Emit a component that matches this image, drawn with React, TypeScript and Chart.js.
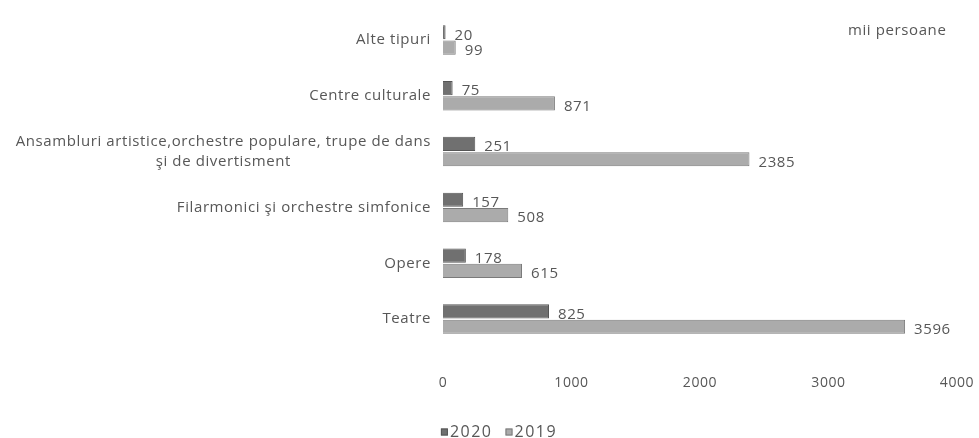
import React, { useEffect, useRef } from "react";
import { Chart, registerables } from "chart.js";

Chart.register(...registerables);

const categories: (string | string[])[] = [
  "Alte tipuri",
  "Centre culturale",
  ["Ansambluri artistice,orchestre populare, trupe de dans", "şi de divertisment"],
  "Filarmonici şi orchestre simfonice",
  "Opere",
  "Teatre",
];
const values2020 = [20, 75, 251, 157, 178, 825];
const values2019 = [99, 871, 2385, 508, 615, 3596];
const xTicks = [0, 1000, 2000, 3000, 4000];
const unitLabel = "mii persoane";

const FONT = "'Open Sans', sans-serif";
const TEXT = "#575757";
const SPACING = "0.6px";

const extrasPlugin = {
  id: "extras",
  beforeUpdate(chart: any) {
    chart.ctx.letterSpacing = SPACING;
  },
  beforeDraw(chart: any) {
    chart.ctx.letterSpacing = SPACING;
  },
  afterDatasetsDraw(chart: any) {
    const ctx = chart.ctx;
    ctx.save();
    ctx.letterSpacing = SPACING;
    ctx.fillStyle = TEXT;
    ctx.font = `15px ${FONT}`;
    ctx.textBaseline = "middle";
    ctx.textAlign = "left";
    chart.data.datasets.forEach((ds: any, di: number) => {
      const meta = chart.getDatasetMeta(di);
      meta.data.forEach((el: any, i: number) => {
        ctx.fillText(String(ds.data[i]), el.x + 9, el.y + 3);
      });
    });
    // y labels
    const y = chart.scales.y;
    categories.forEach((c, i) => {
      const py = y.getPixelForTick(i);
      const lines = Array.isArray(c) ? c : [c];
      const lh = 20;
      const x = chart.chartArea.left - 12;
      if (lines.length === 1) {
        ctx.textAlign = "right";
        ctx.fillText(lines[0], x, py);
      } else {
        ctx.textAlign = "right";
        const w0 = ctx.measureText(lines[0]).width;
        ctx.fillText(lines[0], x, py - lh / 2);
        ctx.textAlign = "center";
        ctx.fillText(lines[1], x - w0 / 2, py + lh / 2);
      }
    });
    ctx.textAlign = "left";
    ctx.fillText(unitLabel, 848, 31);

    // legend
    ctx.font = `16px ${FONT}`;
    ctx.letterSpacing = "1.5px";
    const box = 7;
    const gap = 2;
    const itemGap = 13;
    const dsets = chart.data.datasets;
    const widths = dsets.map((d: any) => box + gap + ctx.measureText(d.label).width);
    const total = widths.reduce((a: number, b: number) => a + b, 0) + itemGap * (dsets.length - 1);
    let lx = 499 - total / 2;
    const ly = 432;
    dsets.forEach((d: any, i: number) => {
      ctx.fillStyle = d.backgroundColor;
      ctx.fillRect(lx, ly - box / 2, box, box);
      ctx.strokeStyle = d.borderColor;
      ctx.lineWidth = 1;
      ctx.strokeRect(lx + 0.5, ly - box / 2 + 0.5, box - 1, box - 1);
      ctx.fillStyle = TEXT;
      ctx.textAlign = "left";
      ctx.fillText(d.label, lx + box + gap, ly);
      lx += widths[i] + itemGap;
    });
    ctx.restore();
  },
};

export default function App() {
  const ref = useRef<HTMLCanvasElement>(null);
  useEffect(() => {
    const chart = new Chart(ref.current!, {
      type: "bar",
      data: {
        labels: categories as any,
        datasets: [
          {
            label: "2020",
            data: values2020,
            backgroundColor: "#707070",
            borderColor: "#555555",
            borderWidth: 1,
            categoryPercentage: 0.55,
            barPercentage: 0.92,
          },
          {
            label: "2019",
            data: values2019,
            backgroundColor: "#ababab",
            borderColor: "#7a7a7a",
            borderWidth: 1,
            categoryPercentage: 0.55,
            barPercentage: 0.92,
          },
        ],
      },
      options: {
        indexAxis: "y",
        animation: false,
        responsive: false,
        layout: { padding: { top: 12, right: 22, left: 0, bottom: 23 } },
        scales: {
          x: {
            min: 0,
            max: 4000,
            afterBuildTicks: (s: any) => {
              s.ticks = xTicks.map((v) => ({ value: v }));
            },
            grid: { display: false },
            border: { display: false },
            ticks: {
              color: TEXT,
              font: { family: FONT, size: 14 },
              padding: 20,
              callback: (v: any) => String(v),
            },
            afterFit: (s: any) => {
              s.height = 68;
              s.paddingRight = 0;
              s.paddingLeft = 0;
            },
          },
          y: {
            grid: { display: false },
            border: { display: false },
            ticks: { display: false },
            afterFit: (s: any) => {
              s.width = 443;
            },
          },
        },
        plugins: {
          legend: { display: false },
          tooltip: { enabled: false },
        },
      },
      plugins: [extrasPlugin],
    });
    return () => chart.destroy();
  }, []);
  return (
    <div style={{ position: "fixed", left: 0, top: 0, width: 979, height: 438, background: "#fff" }}>
      <canvas ref={ref} width={979} height={438} />
    </div>
  );
}
